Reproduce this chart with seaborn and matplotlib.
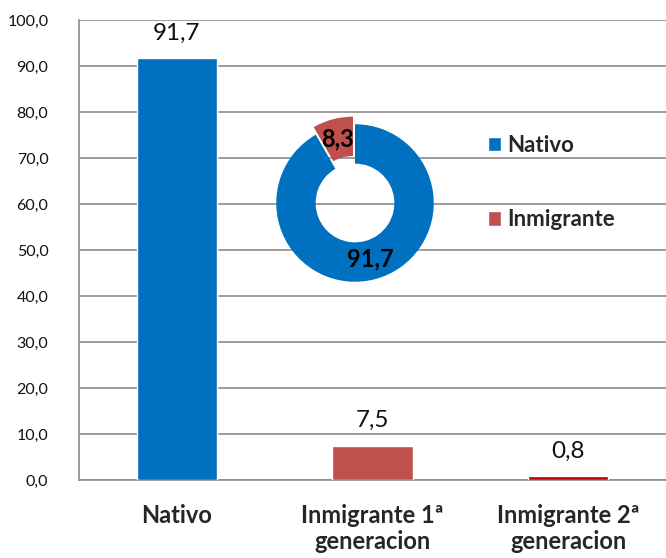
import matplotlib
matplotlib.use("Agg")
import matplotlib.pyplot as plt
import matplotlib.ticker as mticker
from matplotlib.patches import Patch
import seaborn as sns
import pandas as pd

# ----------------------------------------------------------
# Data
# ----------------------------------------------------------
categories = ["Nativo", "Inmigrante 1ª\ngeneracion", "Inmigrante 2ª\ngeneracion"]
values = [91.7, 7.5, 0.8]
bar_colors = ["#0070C0", "#C0504D", "#C00000"]

donut_labels = ["Nativo", "Inmigrante"]
donut_values = [91.7, 8.3]
donut_colors = ["#0070C0", "#C0504D"]


def comma(v):
    return f"{v:.1f}".replace(".", ",")


df = pd.DataFrame({"Grupo": categories, "Porcentaje": values})

sns.set_style("white")
plt.rcParams["font.family"] = ["Lato", "DejaVu Sans"]

fig = plt.figure(figsize=(6.66, 5.58), dpi=100)
ax = fig.add_axes([79 / 666, 1 - 480 / 558, 1 - 79 / 666, 460 / 558])

# ----------------------------------------------------------
# Bar chart
# ----------------------------------------------------------
sns.barplot(data=df, x="Grupo", y="Porcentaje", hue="Grupo",
            palette=bar_colors, width=0.41, saturation=1,
            legend=False, ax=ax, zorder=3)

for i, v in enumerate(values):
    ax.text(i, v + 3.2, comma(v), ha="center", va="bottom",
            fontsize=17.5, color="#111111")

ax.set_ylim(0, 100)
ax.set_xlim(-0.5, 2.5)
ax.yaxis.set_major_locator(mticker.MultipleLocator(10))
ax.yaxis.set_major_formatter(mticker.FuncFormatter(lambda v, p: comma(v)))
ax.grid(axis="y", color="#8c8c8c", linewidth=1.2, zorder=0)
ax.set_axisbelow(True)

for side in ["top", "right"]:
    ax.spines[side].set_visible(False)
ax.spines["left"].set_color("#8c8c8c")
ax.spines["bottom"].set_color("#8c8c8c")
ax.spines["left"].set_linewidth(1.2)
ax.spines["bottom"].set_linewidth(1.2)

ax.tick_params(axis="y", length=6, width=1.2, color="#8c8c8c",
               labelsize=11.5, labelcolor="#111111", pad=16)
ax.tick_params(axis="x", which="major", length=0, pad=17,
               labelsize=17)
ax.set_xticks([0.5, 1.5], minor=True)
ax.tick_params(axis="x", which="minor", length=6, width=1.2,
               color="#8c8c8c")
for lbl in ax.get_xticklabels():
    lbl.set_fontweight("bold")
    lbl.set_linespacing(1.2)
ax.set_xlabel("")
ax.set_ylabel("")

# ----------------------------------------------------------
# Inset donut
# ----------------------------------------------------------
iax = fig.add_axes([255 / 666, 1 - 303 / 558, 200 / 666, 200 / 558])
wedges, texts, autotexts = iax.pie(
    donut_values, colors=donut_colors, startangle=90, counterclock=False,
    explode=[0, 0.1], radius=1,
    wedgeprops=dict(width=0.5, edgecolor="white", linewidth=0),
    autopct=lambda p: comma(p), pctdistance=0.74,
    textprops=dict(fontsize=17, fontweight="bold", color="black"))
iax.set_xlim(-1.27, 1.27)
iax.set_ylim(-1.27, 1.27)
iax.set_aspect("equal")
iax.axis("off")

handles = [Patch(facecolor=c, label=l) for c, l in zip(donut_colors, donut_labels)]
fig.legend(handles=handles, loc="upper left",
           bbox_to_anchor=(488 / 666, 1 - 135 / 558), frameon=False,
           borderaxespad=0, borderpad=0,
           handlelength=0.6, handleheight=0.6, handletextpad=0.25,
           labelspacing=2.4, prop=dict(size=16, weight="bold"))

fig.savefig("out.png", dpi=100)
